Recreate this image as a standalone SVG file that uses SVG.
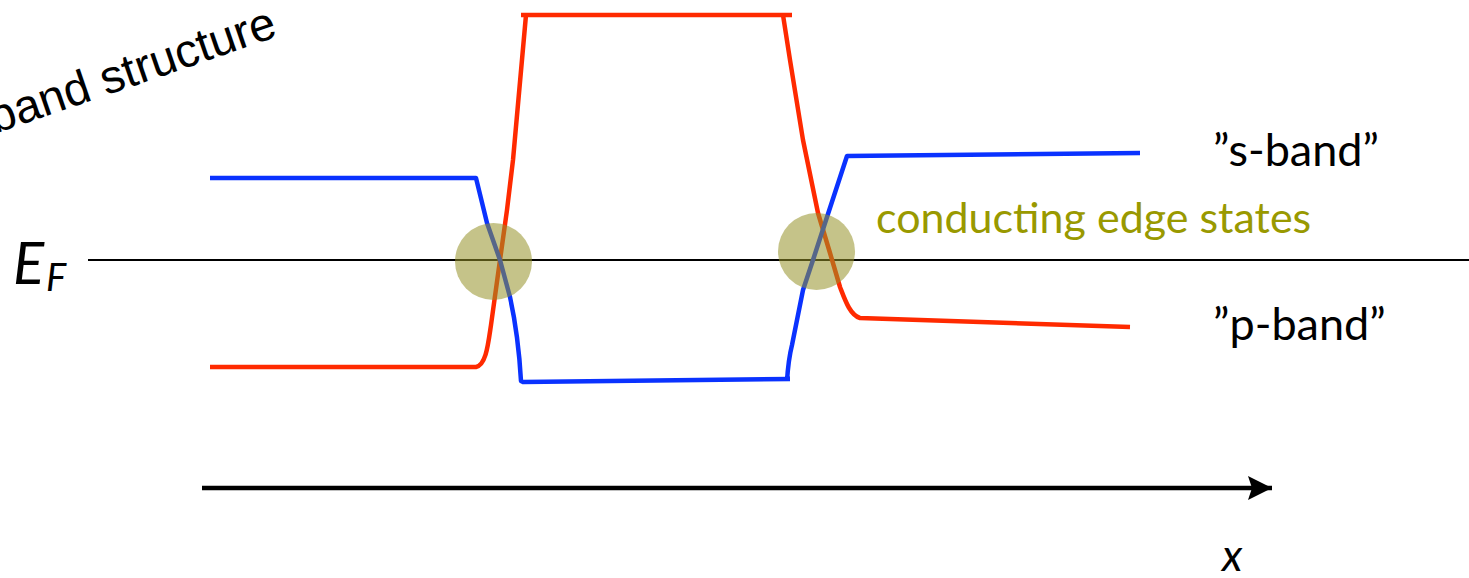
<svg xmlns="http://www.w3.org/2000/svg" width="1469" height="578" viewBox="0 0 1469 578">
<style>
.red{fill:none;stroke:#ff2a00;stroke-width:4.5;stroke-linejoin:round}
.blue{fill:none;stroke:#0a32ff;stroke-width:4.5;stroke-linejoin:round}
.spot{fill:#969128;fill-opacity:0.55}
.lbl{font-family:Lato,"Open Sans",sans-serif;font-size:45px;fill:#000}
</style>
<defs>
<marker id="ah" markerWidth="26" markerHeight="26" refX="0" refY="0" viewBox="-24 -13 26 26" markerUnits="userSpaceOnUse" orient="auto">
<path d="M-24,-12 L0,0 L-24,12 L-20,0 Z" fill="#000"/>
</marker>
</defs>
<rect width="1469" height="578" fill="#fff"/>
<text x="279" y="36" text-anchor="end" transform="rotate(-19 279 36)" font-family="'Liberation Sans',Arial,sans-serif" font-size="47" fill="#000">band structure</text>
<g id="fermi">
<line x1="88" y1="260" x2="1469" y2="260" stroke="#000" stroke-width="2"/>
<text x="13" y="284" font-family="Lato,'Open Sans',sans-serif" font-style="italic" font-size="58" fill="#000">E</text>
<text x="46" y="291" font-family="Lato,'Open Sans',sans-serif" font-style="italic" font-size="38" fill="#000">F</text>
</g>
<g id="connectors">
<path id="red-band" class="red" d="M210,367 L476,367 C486,365 488,345 491,325 L500,260 L507,210 L513,160 L526,15 M521,15 L792,15 M783,15 L790,60 L803,140 L818,213 L830,253 L840,287 C845,300 850,315 860,318 L1130,327"/>
<path id="blue-band" class="blue" d="M210,178 L476,178 L487,223 L500,260 L510,297 C515,320 519,345 521,381 L523,382 L790,379 M787,381 C788,365 790,353 792,345 L803,290 L813,260 L827,217 L847,156 L1140,153"/>
<line id="x-axis" x1="202" y1="488" x2="1272" y2="488" stroke="#000" stroke-width="4.5" marker-end="url(#ah)"/>
</g>
<g id="edge-left"><circle class="spot" cx="493.5" cy="261.5" r="38.5"/></g>
<g id="edge-right"><circle class="spot" cx="816.5" cy="251.5" r="38.5"/></g>
<text x="876" y="233" font-family="Lato,'Open Sans',sans-serif" font-size="43" fill="#999900">conducting edge states</text>
<g id="s-band"><text class="lbl" x="1213" y="166">”s-band”</text></g>
<g id="p-band"><text class="lbl" x="1213" y="340">”p-band”</text></g>
<text x="1222" y="571" font-family="Lato,'Open Sans',sans-serif" font-style="italic" font-size="44" fill="#000">x</text>
</svg>
